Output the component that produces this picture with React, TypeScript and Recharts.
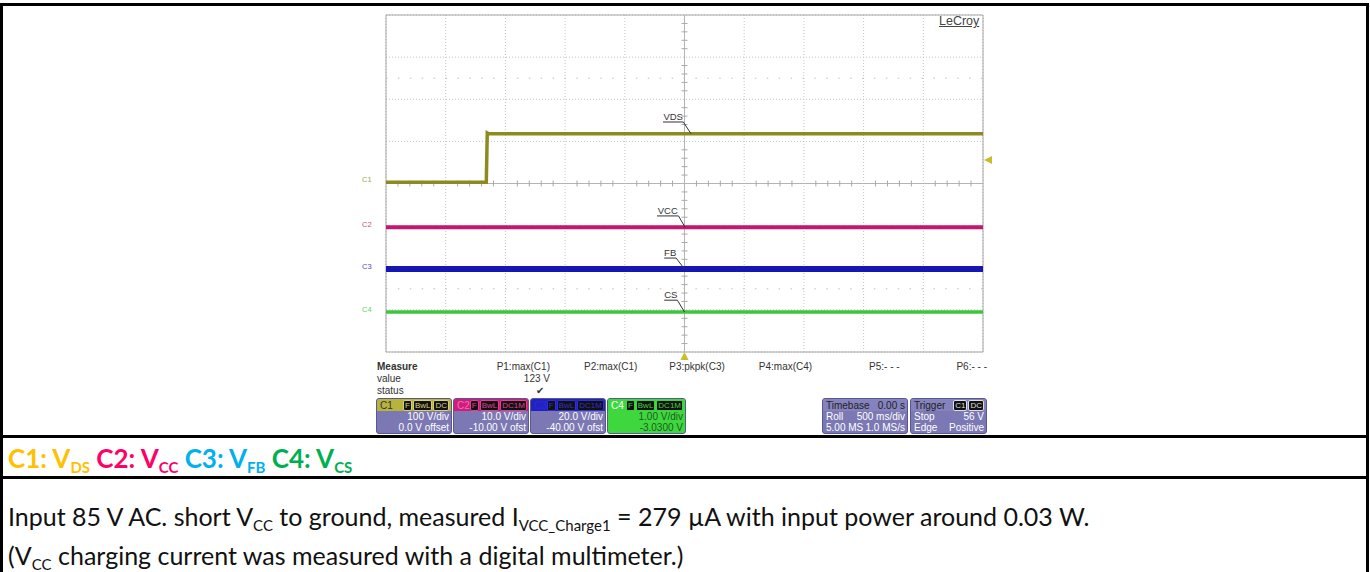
import React from 'react';
import {
  CartesianGrid,
  Line,
  LineChart,
  ReferenceArea,
  ReferenceDot,
  ReferenceLine,
  XAxis,
  YAxis,
} from 'recharts';

// scope axes: time in seconds (500 ms/div, 10 div), vertical in divisions
const X_TICKS = [-2.5, -2, -1.5, -1, -0.5, 0, 0.5, 1, 1.5, 2, 2.5];
const Y_TICKS = [-4, -3, -2, -1, 0, 1, 2, 3, 4];

// channel settings
const CHANNELS = ['C1', 'C2', 'C3', 'C4'];
const VOLTS_PER_DIV = [100, 10, 20, 1];
const OFFSETS = [0, -10, -40, -3.03];
const TRACE_COLORS = ['#8e8b1e', '#c4176f', '#1616b2', '#3cc63c'];
const TRACE_WIDTHS = [3.5, 4, 6, 3.5];

// waveforms (time s, volts)
const VDS_TIME = [-2.5, -1.66, -1.652, -1.64, 2.5];
const VDS_VOLTS = [3, 3, 120, 118, 118];
const VCC_TIME = [-2.5, 2.5];
const VCC_VOLTS = [-0.4, -0.4];
const FB_TIME = [-2.5, 2.5];
const FB_VOLTS = [-0.6, -0.6];
const CS_TIME = [-2.5, 2.5];
const CS_VOLTS = [-0.02, -0.02];

const TRIGGER_LEVEL = 56;

// measurement row
const MEASURE_NAMES = ['P1:max(C1)', 'P2:max(C1)', 'P3:pkpk(C3)', 'P4:max(C4)', 'P5:- - -', 'P6:- - -'];
const MEASURE_VALUES = ['123 V', '', '', '', '', ''];
const MEASURE_STATUS = ['\u2714', '', '', '', '', ''];

const toDiv = (ch: number, v: number) => (v + OFFSETS[ch]) / VOLTS_PER_DIV[ch];
const series = (ch: number, ts: number[], vs: number[]) =>
  ts.map((t, i) => ({ t, d: toDiv(ch, vs[i]) }));

const TRACES = [
  series(0, VDS_TIME, VDS_VOLTS),
  series(1, VCC_TIME, VCC_VOLTS),
  series(2, FB_TIME, FB_VOLTS),
  series(3, CS_TIME, CS_VOLTS),
];

// small graticule ticks on the centre cross
const H_MINOR = Array.from({ length: 51 }, (_, i) => -2.5 + i * 0.1).filter(
  t => Math.abs(t * 2 - Math.round(t * 2)) > 0.01,
);
const V_MINOR = Array.from({ length: 41 }, (_, i) => -4 + i * 0.2).filter(
  d => Math.abs(d - Math.round(d)) > 0.01,
);

// trace name tags: [label, underline x0, x1, y, leader end x, y]
const TAGS: [string, number, number, number, number, number][] = [
  ['VDS', -0.18, -0.01, 1.46, 0.055, toDiv(0, 118)],
  ['VCC', -0.23, -0.05, -0.77, 0.005, toDiv(1, -0.4)],
  ['FB', -0.17, -0.07, -1.77, 0.0, toDiv(2, -0.6)],
  ['CS', -0.17, -0.06, -2.77, 0.0, toDiv(3, -0.02)],
];

const SCOPE_FONT = '"Liberation Sans", Arial, sans-serif';
const DOC_FONT = 'Lato, "Open Sans", sans-serif';

const GRID_LEFT = 386;
const GRID_TOP = 15;
const GRID_W = 597;
const GRID_H = 337;
const PAD_X = 30;
const PAD_Y = 10;
const DIV_PX = GRID_H / 8;
const CENTER_Y = GRID_TOP + GRID_H / 2;

function Triangle(props: any) {
  const { cx, cy, dir } = props;
  const s = 4;
  const pts =
    dir === 'up'
      ? `${cx},${cy - s} ${cx - s},${cy + s} ${cx + s},${cy + s}`
      : `${cx - s},${cy} ${cx + s},${cy - s} ${cx + s},${cy + s}`;
  return <polygon points={pts} fill="#c9bd2a" />;
}

type BoxProps = {
  x: number;
  w: number;
  head: string;
  headRight?: string;
  headColor: string;
  headText: string;
  badges?: string[];
  badgeText?: string;
  bodyColor: string;
  bodyText: string;
  lines: [string, string][];
};

function ScopeBox({ x, w, head, headRight, headColor, headText, badges, badgeText, bodyColor, bodyText, lines }: BoxProps) {
  return (
    <div
      style={{
        position: 'absolute',
        left: x,
        top: 398,
        width: w,
        height: 36,
        background: bodyColor,
        borderRadius: 3,
        border: '1px solid #5a5890',
        boxSizing: 'border-box',
        overflow: 'hidden',
        fontFamily: SCOPE_FONT,
        fontSize: 10,
        lineHeight: '11px',
      }}
    >
      <div
        style={{
          height: 12,
          background: headColor,
          display: 'flex',
          alignItems: 'center',
          justifyContent: 'space-between',
          padding: '0 2px 0 3px',
          color: headText,
        }}
      >
        <span>{head}</span>
        {badges ? (
          <span style={{ display: 'flex', gap: 1 }}>
            {badges.map(b => (
              <span
                key={b}
                style={{
                  background: '#111',
                  color: badgeText,
                  fontSize: 8,
                  lineHeight: '9px',
                  padding: '0 1px',
                  borderRadius: 2,
                  border: `1px solid ${badgeText}`,
                }}
              >
                {b}
              </span>
            ))}
          </span>
        ) : (
          <span>{headRight}</span>
        )}
      </div>
      {lines.map(([l, r], i) => (
        <div
          key={i}
          style={{
            display: 'flex',
            justifyContent: 'space-between',
            padding: '0 2px 0 3px',
            color: bodyText,
            height: 11,
          }}
        >
          <span>{l}</span>
          <span>{r}</span>
        </div>
      ))}
    </div>
  );
}

function Sub({ children, size }: { children: React.ReactNode; size: number }) {
  return (
    <span style={{ fontSize: size, position: 'relative', top: size * 0.3 }}>{children}</span>
  );
}

export default function App() {
  const firstVolts = [VDS_VOLTS[0], VCC_VOLTS[0], FB_VOLTS[0], CS_VOLTS[0]];
  return (
    <div
      style={{
        position: 'absolute',
        left: 0,
        top: 0,
        width: 1370,
        height: 572,
        background: '#fff',
        overflow: 'hidden',
      }}
    >
      {/* table frame */}
      <div
        style={{
          position: 'absolute',
          left: 0,
          top: 3,
          width: 1369,
          height: 600,
          border: '3px solid #000',
          boxSizing: 'border-box',
        }}
      />
      <div style={{ position: 'absolute', left: 0, top: 435, width: 1369, height: 3, background: '#000' }} />
      <div style={{ position: 'absolute', left: 0, top: 476, width: 1369, height: 3, background: '#000' }} />

      {/* oscilloscope screen */}
      <div style={{ position: 'absolute', left: GRID_LEFT - PAD_X, top: GRID_TOP - PAD_Y }}>
        <LineChart
          width={GRID_W + 2 * PAD_X}
          height={GRID_H + 2 * PAD_Y}
          margin={{ top: PAD_Y, bottom: PAD_Y, left: PAD_X, right: PAD_X }}
        >
          <XAxis type="number" dataKey="t" domain={[-2.5, 2.5]} ticks={X_TICKS} hide allowDataOverflow />
          <YAxis type="number" dataKey="d" domain={[-4, 4]} ticks={Y_TICKS} hide allowDataOverflow />
          <CartesianGrid stroke="#c4c4c4" strokeDasharray="1 2" />
          <ReferenceLine y={2.5} stroke="#bdbdbd" strokeDasharray="1.5 10.4" />
          <ReferenceLine y={-2.5} stroke="#bdbdbd" strokeDasharray="1.5 10.4" />
          <ReferenceLine x={0} stroke="#b4b4b4" />
          <ReferenceLine y={0} stroke="#b4b4b4" />
          {H_MINOR.map(t => (
            <ReferenceLine key={`h${t}`} segment={[{ x: t, y: -0.07 }, { x: t, y: 0.07 }]} stroke="#a8a8a8" />
          ))}
          {V_MINOR.map(d => (
            <ReferenceLine key={`v${d}`} segment={[{ x: -0.025, y: d }, { x: 0.025, y: d }]} stroke="#a8a8a8" />
          ))}
          <ReferenceArea x1={-2.5} x2={2.5} y1={-4} y2={4} fill="none" stroke="#a6a6a6" strokeWidth={1} />
          {TRACES.map((data, i) => (
            <Line
              key={CHANNELS[i]}
              data={data}
              dataKey="d"
              type="linear"
              stroke={TRACE_COLORS[i]}
              strokeWidth={TRACE_WIDTHS[i]}
              dot={false}
              isAnimationActive={false}
            />
          ))}
          {TAGS.map(([name, x0, x1, y]) => (
            <ReferenceLine
              key={name}
              segment={[{ x: x0, y }, { x: x1, y }]}
              stroke="#333"
              label={{ value: name, position: 'top', offset: 2, fontSize: 9.5, fill: '#333', fontFamily: SCOPE_FONT }}
            />
          ))}
          {TAGS.map(([name, , x1, y, ex, ey]) => (
            <ReferenceLine key={`l${name}`} segment={[{ x: x1, y }, { x: ex, y: ey }]} stroke="#333" />
          ))}
          <ReferenceDot x={0} y={-4} r={4} ifOverflow="visible" shape={(p: any) => <Triangle cx={p.cx} cy={p.cy + 4} dir="up" />} />
          <ReferenceDot
            x={2.5}
            y={toDiv(0, TRIGGER_LEVEL)}
            r={4}
            ifOverflow="visible"
            shape={(p: any) => <Triangle cx={p.cx + 5} cy={p.cy} dir="left" />}
          />
        </LineChart>
      </div>

      {/* LeCroy logo */}
      <div
        style={{
          position: 'absolute',
          left: 939,
          top: 14,
          fontFamily: SCOPE_FONT,
          fontSize: 12.5,
          color: '#444',
          textDecoration: 'underline',
        }}
      >
        LeCroy
      </div>

      {/* channel tags on the left edge */}
      {CHANNELS.map((c, i) => (
        <div
          key={c}
          style={{
            position: 'absolute',
            left: 362,
            top: CENTER_Y - toDiv(i, firstVolts[i]) * DIV_PX - 7,
            fontFamily: SCOPE_FONT,
            fontSize: 7.5,
            color: TRACE_COLORS[i],
            opacity: 0.8,
          }}
        >
          {c}
        </div>
      ))}

      {/* measurement table */}
      <div style={{ position: 'absolute', left: 377, top: 361, fontFamily: SCOPE_FONT, fontSize: 10, color: '#333', lineHeight: '12px' }}>
        <div style={{ fontWeight: 'bold' }}>Measure</div>
        <div>value</div>
        <div>status</div>
      </div>
      {MEASURE_NAMES.map((m, i) => (
        <div
          key={m}
          style={{
            position: 'absolute',
            left: 550 + i * 87.4 - 100,
            width: 100,
            top: 361,
            textAlign: 'right',
            fontFamily: SCOPE_FONT,
            fontSize: 10,
            color: '#333',
            lineHeight: '12px',
          }}
        >
          <div>{m}</div>
          <div>{MEASURE_VALUES[i] || '\u00a0'}</div>
          <div style={{ paddingRight: 6 }}>{MEASURE_STATUS[i] || '\u00a0'}</div>
        </div>
      ))}

      <ScopeBox
        x={376}
        w={76}
        head="C1"
        headColor="#b7b33c"
        headText="#333"
        badges={['F', 'BwL', 'DC']}
        badgeText="#d8d070"
        bodyColor="#7b78b3"
        bodyText="#fff"
        lines={[['', '100 V/div'], ['', '0.0 V offset']]}
      />
      <ScopeBox
        x={453}
        w={76}
        head="C2"
        headColor="#d01c7c"
        headText="#f070b0"
        badges={['F', 'BwL', 'DC1M']}
        badgeText="#e04090"
        bodyColor="#7b78b3"
        bodyText="#fff"
        lines={[['', '10.0 V/div'], ['', '-10.00 V ofst']]}
      />
      <ScopeBox
        x={530}
        w={76}
        head="C3"
        headColor="#2222c4"
        headText="#2a2ad0"
        badges={['F', 'BwL', 'DC1M']}
        badgeText="#3030d0"
        bodyColor="#7b78b3"
        bodyText="#fff"
        lines={[['', '20.0 V/div'], ['', '-40.00 V ofst']]}
      />
      <ScopeBox
        x={607}
        w={79}
        head="C4"
        headColor="#3ed83e"
        headText="#fff"
        badges={['F', 'BwL', 'DC1M']}
        badgeText="#40d040"
        bodyColor="#3ed83e"
        bodyText="#1e5a1e"
        lines={[['', '1.00 V/div'], ['', '-3.0300 V']]}
      />
      <ScopeBox
        x={822}
        w={86}
        head="Timebase"
        headRight="0.00 s"
        headColor="#8682bd"
        headText="#222"
        bodyColor="#7b78b3"
        bodyText="#fff"
        lines={[['Roll', '500 ms/div'], ['5.00 MS', '1.0 MS/s']]}
      />
      <ScopeBox
        x={910}
        w={77}
        head="Trigger"
        headColor="#8682bd"
        headText="#222"
        badges={['C1', 'DC']}
        badgeText="#ddd"
        bodyColor="#7b78b3"
        bodyText="#fff"
        lines={[['Stop', '56 V'], ['Edge', 'Positive']]}
      />

      {/* channel legend row */}
      <div
        style={{
          position: 'absolute',
          left: 8,
          top: 443,
          fontFamily: DOC_FONT,
          fontWeight: 'bold',
          fontSize: 26,
          lineHeight: '30px',
          whiteSpace: 'nowrap',
        }}
      >
        <span style={{ color: '#ffc000' }}>
          C1: V<Sub size={15}>DS</Sub>
        </span>{' '}
        <span style={{ color: '#ff0066' }}>
          C2: V<Sub size={15}>CC</Sub>
        </span>{' '}
        <span style={{ color: '#00b0f0' }}>
          C3: V<Sub size={15}>FB</Sub>
        </span>{' '}
        <span style={{ color: '#00b050' }}>
          C4: V<Sub size={15}>CS</Sub>
        </span>
      </div>

      {/* description */}
      <div
        style={{
          position: 'absolute',
          left: 8,
          top: 499,
          fontFamily: DOC_FONT,
          fontSize: 25,
          lineHeight: '35px',
          color: '#111',
          whiteSpace: 'nowrap',
        }}
      >
        <div>
          Input 85 V AC. short V<Sub size={15}>CC</Sub> to ground, measured I<Sub size={15}>VCC_Charge1</Sub> = 279 µA with
          input power around 0.03 W.
        </div>
        <div>
          (V<Sub size={15}>CC</Sub> charging current was measured with a digital multimeter.)
        </div>
      </div>
    </div>
  );
}
